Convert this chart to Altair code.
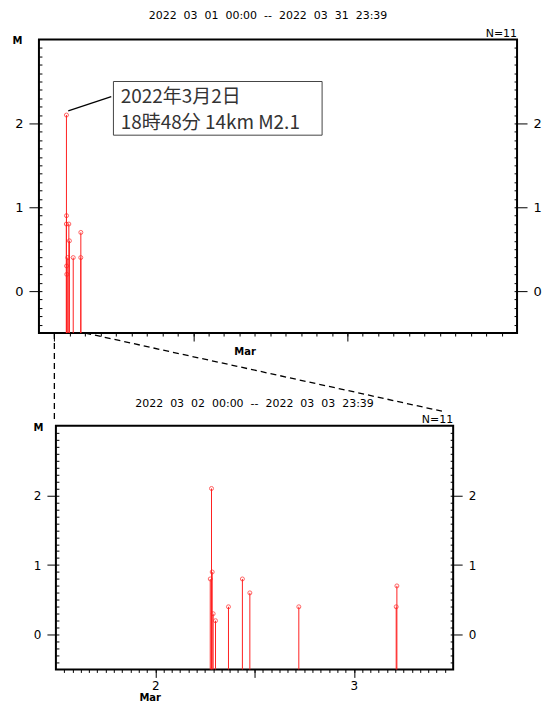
import altair as alt
import pandas as pd

# ---------------- data ----------------
times = ["2022-03-02 18:39", "2022-03-02 18:48", "2022-03-02 18:53", "2022-03-02 19:00",
         "2022-03-02 19:17", "2022-03-02 20:51", "2022-03-02 22:32", "2022-03-02 23:26",
         "2022-03-03 05:21", "2022-03-03 17:07", "2022-03-03 17:12"]
mags = [0.8, 2.1, 0.9, 0.3, 0.2, 0.4, 0.8, 0.6, 0.4, 0.4, 0.7]

top_title = "2022 03 01 00:00 -- 2022 03 31 23:39"
bottom_title = "2022 03 02 00:00 -- 2022 03 03 23:39"
count_label = "N=11"
month_label = "Mar"
y_title = "M"
annot_lines = ["2022年3月2日", "18時48分 14km M2.1"]

top_domain = [1, 32]          # day of month (Mar 1 00:00 .. Apr 1 00:00)
bottom_domain = [2, 4]        # Mar 2 00:00 .. Mar 4 00:00
m_domain = [-0.5, 3]
m_major = [0, 1, 2]
top_major_days = [2, 11, 21]
bottom_major_days = [2.5, 3, 3.5]

# annotation geometry (in data units of the upper panel)
box_x = [5.83, 19.36]
box_m = [1.86, 2.50]
text_x = [6.3, 6.3]
text_m = [2.32, 2.01]
leader_x = [2.90, 5.69]
leader_m = [2.15, 2.32]
zoom_x0 = [2.0, 4.0]
zoom_m0 = [-0.5, -0.5]
zoom_x1 = [2.0, 27.13]
zoom_m1 = [-1.563, -1.432]

# ---------------- tables ----------------
ts = pd.to_datetime(times)
df = pd.DataFrame({"day": ts.day + ts.hour / 24 + ts.minute / 1440, "M": mags})
m_minor = [round(-0.4 + 0.1 * i, 1) for i in range(34)]
top_minor = list(range(2, 32))
bottom_minor = [2 + k / 24 for k in range(1, 48)]

NB = "\u00a0"
def spaced(s):
    return s.replace(" ", NB * 2)

FONT = "DejaVu Sans"
W1, H1 = 479, 294
W2, H2 = 398, 244
RED = "#ff2020"


def panel(domain, W, H, minor_x, major_x, x_labels, title, title_dx, title_y, mar_x, mar_y,
          m_x, m_y, lab_size, ytick, extra=None):
    xs = alt.Scale(domain=domain, nice=False, zero=False)
    ys = alt.Scale(domain=m_domain, nice=False, zero=False)
    base = alt.Chart(df)
    stems = base.mark_rule(color=RED, strokeWidth=1).encode(
        x=alt.X("day:Q", scale=xs, axis=alt.Axis(
            orient="bottom", values=minor_x, tickSize=3, tickColor="black", labels=False,
            domain=False, grid=False, title=month_label, titleX=mar_x, titleY=mar_y,
            titleFont=FONT, titleFontSize=10, titleFontWeight="bold",
            titleBaseline="middle", titleAlign="center", titleColor="black")),
        y=alt.Y("M:Q", scale=ys, axis=alt.Axis(
            orient="left", values=m_major, tickSize=ytick, tickColor="black",
            labelPadding=6, labelFont=FONT, labelFontSize=lab_size, labelColor="black",
            domain=False, grid=False, title=y_title, titleAngle=0, titleX=m_x, titleY=m_y,
            titleAlign="center", titleBaseline="middle", titleFont=FONT,
            titleFontSize=10, titleFontWeight="bold", titleColor="black")),
        y2=alt.datum(m_domain[0]),
    )
    xlab = dict(labels=False)
    if x_labels:
        xlab = dict(labels=True, labelExpr="datum.value % 1 == 0.5 ? format(floor(datum.value), 'd') : ''",
                    labelFont=FONT, labelFontSize=12, labelPadding=3, labelColor="black",
                    labelFlush=False, labelOverlap=False)
    pts = base.mark_point(shape="circle", filled=False, color=RED, size=16, strokeWidth=1).encode(
        x=alt.X("day:Q", axis=alt.Axis(orient="bottom", values=major_x, tickSize=8,
                                       tickColor="black", domain=False, grid=False,
                                       title=None, **xlab)),
        y=alt.Y("M:Q", axis=alt.Axis(orient="right", values=m_major, tickSize=ytick,
                                     tickColor="black", labelPadding=6, labelFont=FONT,
                                     labelFontSize=lab_size, labelColor="black",
                                     domain=False, grid=False, title=None)),
    )
    inner_l = base.mark_point(opacity=0).encode(
        x=alt.X("day:Q", axis=None),
        y=alt.Y("M:Q", axis=alt.Axis(orient="right", offset=-W, values=m_minor, tickSize=3,
                                     tickColor="black", labels=False, domain=False,
                                     grid=False, title=None)),
    )
    inner_r = base.mark_point(opacity=0).encode(
        x=alt.X("day:Q", axis=None),
        y=alt.Y("M:Q", axis=alt.Axis(orient="left", offset=-W, values=m_minor, tickSize=3,
                                     tickColor="black", labels=False, domain=False,
                                     grid=False, title=None)),
    )
    nlab = alt.Chart(pd.DataFrame({"t": [count_label]})).mark_text(
        align="right", baseline="bottom", font=FONT, fontSize=11, color="black").encode(
        text="t:N", x=alt.value(W), y=alt.value(-1))
    tlab = alt.Chart(pd.DataFrame({"t": [spaced(title)]})).mark_text(
        align="center", baseline="middle", font=FONT, fontSize=11, color="black").encode(
        text="t:N", x=alt.value(W / 2 + title_dx), y=alt.value(title_y))
    layers = [stems, pts, inner_l, inner_r, nlab, tlab] + (extra or [])
    return alt.layer(*layers).resolve_axis(x="independent", y="independent").properties(
        width=W, height=H)


# annotation layers for upper panel
box_df = pd.DataFrame({"x0": [box_x[0]], "x1": [box_x[1]], "m0": [box_m[0]], "m1": [box_m[1]]})
box = alt.Chart(box_df).mark_rect(fill="white", stroke="#444", strokeWidth=1).encode(
    x=alt.X("x0:Q", axis=None), x2="x1:Q", y=alt.Y("m0:Q", axis=None), y2="m1:Q")
txt_df = pd.DataFrame({"x": text_x, "m": text_m, "t": annot_lines})
txt = alt.Chart(txt_df).mark_text(align="left", baseline="middle", font="Noto Sans CJK JP",
                                  fontSize=19, color="#333").encode(
    x=alt.X("x:Q", axis=None), y=alt.Y("m:Q", axis=None), text="t:N")
lead_df = pd.DataFrame({"x0": [leader_x[0]], "x1": [leader_x[1]],
                        "m0": [leader_m[0]], "m1": [leader_m[1]]})
lead = alt.Chart(lead_df).mark_rule(color="black", strokeWidth=1.2).encode(
    x=alt.X("x0:Q", axis=None), x2="x1:Q", y=alt.Y("m0:Q", axis=None), y2="m1:Q")
zoom_df = pd.DataFrame({"x0": zoom_x0, "x1": zoom_x1, "m0": zoom_m0, "m1": zoom_m1})
zoom = alt.Chart(zoom_df).mark_rule(color="black", strokeWidth=1.3, strokeDash=[6, 4],
                                    clip=False).encode(
    x=alt.X("x0:Q", axis=None), x2="x1:Q", y=alt.Y("m0:Q", axis=None), y2="m1:Q")

top = panel(top_domain, W1, H1, top_minor, top_major_days, False, top_title, -10, -24,
            206, 18, -22, 1, 13, 10, extra=[zoom, box, lead, txt])
bottom = panel(bottom_domain, W2, H2, bottom_minor, bottom_major_days, True, bottom_title, 0, -22,
               94, 28, -18, 2, 12, 9)

spacer = alt.Chart(pd.DataFrame({"a": [0]})).mark_point(opacity=0).properties(
    width=1, height=H2, view=alt.ViewBackground(stroke=None))

chart = alt.vconcat(
    top,
    alt.hconcat(spacer, bottom, spacing=16, bounds="flush"),
    spacing=93, bounds="flush",
).properties(
    padding={"left": 3, "top": 0, "right": 0, "bottom": 0}
).configure_view(stroke="black", strokeWidth=2)

chart.save("out.html", embed_options={"renderer": "svg", "actions": False})
